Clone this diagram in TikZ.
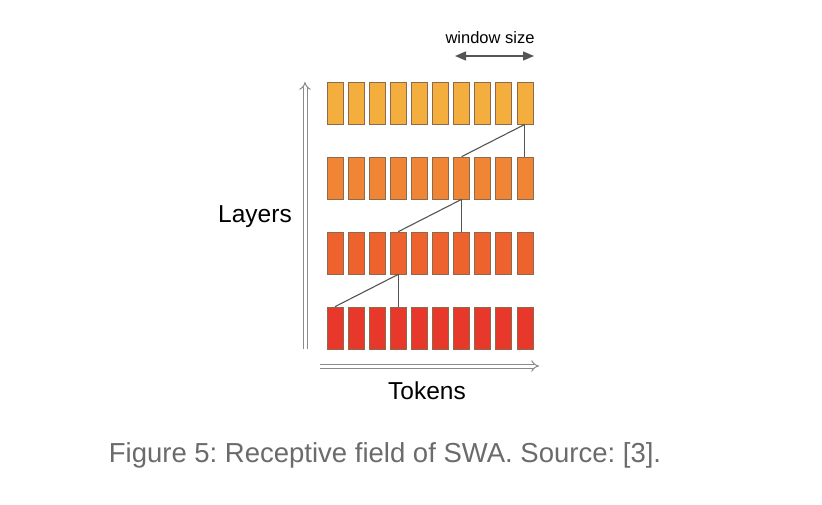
\documentclass[tikz,border=0pt]{standalone}
\usepackage{fontspec}
\setmainfont{Liberation Sans}
\usetikzlibrary{arrows.meta}
\definecolor{rowA}{HTML}{F4AE3D}
\definecolor{rowB}{HTML}{EF8535}
\definecolor{rowC}{HTML}{EE622D}
\definecolor{rowD}{HTML}{E8382B}
\definecolor{boxedge}{HTML}{8E6A4C}
\definecolor{linkgray}{HTML}{555555}
\definecolor{axisgray}{HTML}{8A8A8A}
\definecolor{capgray}{HTML}{6B6B6B}
\tikzset{
  tok/.style={draw=boxedge, line width=0.7pt, minimum width=16pt, minimum height=42pt, inner sep=0pt},
  link/.style={draw=linkgray, line width=1.1pt},
  axisarrow/.style={draw=axisgray, line width=1pt, double=white, double distance=3pt, -{Implies}},
  lbl/.style={inner sep=0pt, font=\fontsize{24.5}{28}\selectfont}
}
\begin{document}
\frenchspacing
\begin{tikzpicture}[x=1pt,y=-1pt]
\useasboundingbox[fill=white] (0,0) rectangle (822,504);
% token boxes
\foreach \r/\yc/\col in {1/103/rowA,2/178/rowB,3/253/rowC,4/328/rowD}{
  \foreach \c in {0,...,9}{
    \node[tok, fill=\col] (b-\r-\c) at ({335+21.1*\c},\yc) {};
  }
}
% receptive field links
\draw[link] (b-1-9.south) -- (b-2-6.north);
\draw[link] (b-1-9.south) -- (b-2-9.north);
\draw[link] (b-2-6.south) -- (b-3-3.north);
\draw[link] (b-2-6.south) -- (b-3-6.north);
\draw[link] (b-3-3.south) -- (b-4-0.north);
\draw[link] (b-3-3.south) -- (b-4-3.north);
% axes
\coordinate (la-s) at (305,349);
\coordinate (la-e) at (305,82);
\coordinate (ta-s) at (320,366);
\coordinate (ta-e) at (539,366);
\draw[axisarrow] (la-s) -- (la-e);
\draw[axisarrow] (ta-s) -- (ta-e);
% window size
\coordinate (ws-l) at (455,56);
\coordinate (ws-r) at (534,56);
\draw[draw=linkgray, line width=1.4pt, {Triangle[length=11pt,width=9pt]}-{Triangle[length=11pt,width=9pt]}] (ws-l) -- (ws-r);
\node[inner sep=0pt, font=\fontsize{16.5}{19}\selectfont] (ws) at (490,38) {window size};
% labels
\node[lbl] (layers) at (255,217) {Layers};
\node[lbl] (tokens) at (427,391) {Tokens};
\node[inner sep=0pt, text=capgray, font=\fontsize{27.5}{32}\selectfont] (cap) at (385,455) {Figure 5: Receptive field of SWA. Source: [3].};
\end{tikzpicture}
\end{document}
